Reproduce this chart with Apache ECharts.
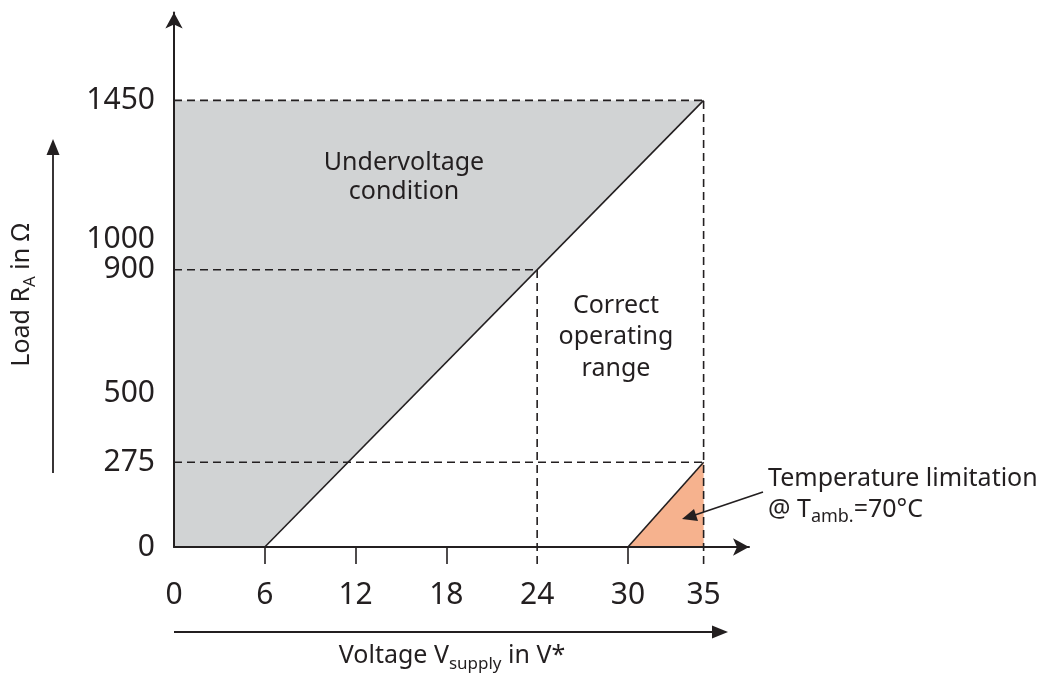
<!DOCTYPE html>
<html>
<head>
<meta charset="utf-8">
<script src="https://cdn.jsdelivr.net/npm/echarts@6/dist/echarts.min.js"></script>
<style>html,body{margin:0;padding:0;background:#fff;}#c{width:1046px;height:679px;}</style>
</head>
<body>
<div id="c"></div>
<script>
// ---- data ----
const xTickLabels = [0, 6, 12, 18, 24, 30, 35];
const xTickMarks = [6, 12, 18, 30];
const yTickLabels = [0, 275, 500, 900, 1000, 1450];
const undervoltageArea = [[0, 0], [6, 0], [35, 1450], [0, 1450]];
const temperatureArea = [[30, 0], [35, 0], [35, 275]];
const boundaryLine = [[6, 0], [35, 1450]];
const temperatureEdge = [[30, 0], [35, 275]];
const dashedLines = [
  [0, 1450, 35, 1450],
  [35, 0, 35, 1450],
  [0, 900, 24, 900],
  [24, 0, 24, 900],
  [0, 275, 35, 275]
];
const xMax = 38, yMax = 1735;

const INK = '#231f20';
const FONT = 'Noto Sans';

const chart = echarts.init(document.getElementById('c'));

function polygonSeries(points, color) {
  return {
    type: 'custom', coordinateSystem: 'cartesian2d', silent: true, z: 1,
    data: points,
    renderItem: function (params, api) {
      if (params.dataIndex !== 0) return null;
      return { type: 'polygon', shape: { points: points.map(p => api.coord(p)) }, style: { fill: color } };
    }
  };
}

const tickLen = 17;
const rich = {
  s: { fontFamily: FONT, fontSize: 17, fill: INK, lineHeight: 34, verticalAlign: 'bottom' }
};

chart.setOption({
  animation: false,
  grid: { left: 174, right: 1046 - 174 - 575, bottom: 132, top: 679 - 132 - yMax * 0.308, containLabel: false },
  xAxis: {
    type: 'value', min: 0, max: xMax, z: 10,
    axisLine: { show: true, lineStyle: { color: INK, width: 2 }, symbol: ['none', 'arrow'], symbolSize: [13, 16] },
    axisTick: { show: true, length: tickLen, inside: false, customValues: xTickMarks, lineStyle: { color: INK, width: 1.6 } },
    axisLabel: { customValues: xTickLabels, formatter: v => String(v), margin: 33, fontFamily: FONT, fontWeight: 'normal', fontSize: 30, color: INK },
    splitLine: { show: false }
  },
  yAxis: {
    type: 'value', min: 0, max: yMax, z: 10,
    axisLine: { show: true, lineStyle: { color: INK, width: 2 }, symbol: ['none', 'arrow'], symbolSize: [13, 16] },
    axisTick: { show: false },
    axisLabel: { customValues: yTickLabels, formatter: v => String(v), margin: 19, fontFamily: FONT, fontWeight: 'normal', fontSize: 30, color: INK },
    splitLine: { show: false }
  },
  series: [
    polygonSeries(undervoltageArea, '#d1d3d4'),
    polygonSeries(temperatureArea, '#f6b28e'),
    {
      type: 'custom', coordinateSystem: 'cartesian2d', silent: true, z: 3,
      encode: { x: [0, 2], y: [1, 3] },
      data: dashedLines,
      renderItem: function (params, api) {
        const p1 = api.coord([api.value(0), api.value(1)]);
        const p2 = api.coord([api.value(2), api.value(3)]);
        if (api.value(0) === api.value(2) && api.value(1) === 0) p1[1] += tickLen;
        return { type: 'line', shape: { x1: p1[0], y1: p1[1], x2: p2[0], y2: p2[1] },
          style: { stroke: INK, lineWidth: 1.6, lineDash: [8, 5] } };
      }
    },
    { type: 'line', data: boundaryLine, symbol: 'none', silent: true, z: 4, lineStyle: { color: INK, width: 1.6 } },
    { type: 'line', data: temperatureEdge, symbol: 'none', silent: true, z: 4, lineStyle: { color: INK, width: 1.6 } }
  ],
  graphic: [
    { type: 'text', x: 404, y: 177, z: 20, style: { text: 'Undervoltage\ncondition', align: 'center', verticalAlign: 'middle', fontFamily: FONT, fontSize: 25, lineHeight: 29, fill: INK } },
    { type: 'text', x: 616, y: 337, z: 20, style: { text: 'Correct\noperating\nrange', align: 'center', verticalAlign: 'middle', fontFamily: FONT, fontSize: 25, lineHeight: 31.5, fill: INK } },
    { type: 'text', x: 768, y: 479, z: 20, style: { text: 'Temperature limitation', align: 'left', verticalAlign: 'middle', fontFamily: FONT, fontSize: 25, fill: INK } },
    { type: 'text', x: 768, y: 510, z: 20, style: { text: '@ T{s|amb.}=70°C', align: 'left', verticalAlign: 'middle',
        rich: { s: { fontFamily: FONT, fontSize: 18, fill: INK, lineHeight: 31, verticalAlign: 'bottom' } },
        fontFamily: FONT, fontSize: 25, lineHeight: 31, fill: INK } },
    // annotation arrow
    { type: 'line', z: 20, shape: { x1: 763, y1: 492, x2: 692, y2: 516 }, style: { stroke: INK, lineWidth: 1.8 } },
    { type: 'polygon', z: 20, shape: { points: [[682, 519], [694, 509], [698, 521]] }, style: { fill: INK } },
    // y axis title and arrow
    { type: 'text', x: 22, y: 295, rotation: Math.PI / 2, z: 20, style: { text: 'Load R{s|A} in Ω', align: 'center', verticalAlign: 'middle', rich: rich, fontFamily: FONT, fontSize: 25, lineHeight: 34, fill: INK } },
    { type: 'line', z: 20, shape: { x1: 53, y1: 473, x2: 53, y2: 150 }, style: { stroke: INK, lineWidth: 1.8 } },
    { type: 'polygon', z: 20, shape: { points: [[53, 139], [46.5, 155], [59.5, 155]] }, style: { fill: INK } },
    // x axis title and arrow
    { type: 'text', x: 452, y: 656, z: 20, style: { text: 'Voltage V{s|supply} in V*', align: 'center', verticalAlign: 'middle', rich: rich, fontFamily: FONT, fontSize: 25, lineHeight: 34, fill: INK } },
    { type: 'line', z: 20, shape: { x1: 174, y1: 632, x2: 716, y2: 632 }, style: { stroke: INK, lineWidth: 1.8 } },
    { type: 'polygon', z: 20, shape: { points: [[728, 632], [712, 625.5], [712, 638.5]] }, style: { fill: INK } }
  ]
});
</script>
</body>
</html>
